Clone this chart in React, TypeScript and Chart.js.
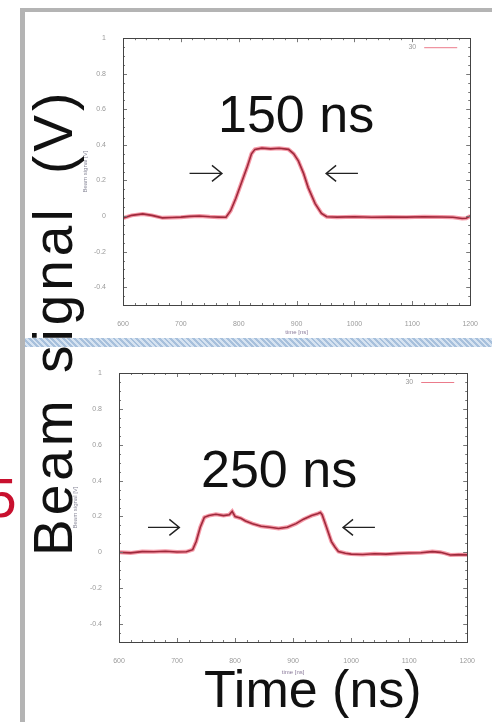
import React, { useEffect, useRef } from "react";
import { Chart, registerables } from "chart.js";
Chart.register(...registerables);

const FONT = "'Liberation Sans', Arial, Helvetica, sans-serif";
Chart.defaults.font.family = FONT;

// ---- data ----
const xTicks = [600, 700, 800, 900, 1000, 1100, 1200];
const yTicks = [-0.4, -0.2, 0, 0.2, 0.4, 0.6, 0.8, 1];
const xMin = 600;
const xMax = 1200;
const yMin = -0.5;
const yMax = 1;
const legendLabel = "30";
const xTitle = "time [ns]";
const yTitle = "Beam signal [V]";

const topTime = [600, 615, 634, 650, 668, 685, 700, 715, 732, 750, 765, 778, 786, 795, 805, 815, 822, 828, 840, 855, 870, 886, 895, 903, 912, 920, 932, 943, 952, 970, 1000, 1030, 1060, 1090, 1120, 1150, 1170, 1186, 1193, 1200];
const topSignal = [-0.012, 0.004, 0.012, 0.004, -0.01, -0.008, -0.006, -0.002, 0.0, -0.004, -0.006, -0.007, 0.03, 0.1, 0.19, 0.28, 0.35, 0.375, 0.382, 0.378, 0.381, 0.375, 0.35, 0.31, 0.24, 0.16, 0.07, 0.015, -0.004, -0.006, -0.004, -0.007, -0.005, -0.006, -0.004, -0.005, -0.007, -0.014, -0.012, 0.0];

const botTime = [600, 620, 640, 660, 680, 700, 716, 727, 733, 740, 747, 755, 767, 780, 790, 795, 800, 810, 818, 830, 845, 860, 875, 890, 905, 918, 932, 942, 947, 950, 957, 966, 972, 978, 990, 1000, 1020, 1040, 1060, 1080, 1100, 1120, 1140, 1154, 1162, 1171, 1185, 1200];
const botSignal = [0.0, -0.003, 0.004, 0.003, 0.006, 0.002, 0.003, 0.015, 0.06, 0.14, 0.195, 0.205, 0.212, 0.205, 0.21, 0.228, 0.2, 0.19, 0.175, 0.16, 0.145, 0.14, 0.133, 0.14, 0.16, 0.185, 0.205, 0.215, 0.222, 0.21, 0.145, 0.06, 0.03, 0.005, -0.005, -0.01, -0.012, -0.008, -0.01, -0.006, -0.004, -0.002, 0.004, 0.0, -0.006, -0.015, -0.013, -0.014];

const topArrowFrom = [715, 1006];
const topArrowTo = [771, 951];
const topArrowLevel = 0.24;
const botArrowFrom = [650, 1041];
const botArrowTo = [704, 986];
const botArrowLevel = 0.139;

// ---- plugin ----
function makeDecor(from: number[], to: number[], level: number) {
  return {
    id: "decor",
    afterDatasetsDraw(chart: any) {
      const { ctx, chartArea: a, scales } = chart;
      const xs = scales.x;
      const ys = scales.y;
      ctx.save();
      // inward ticks (gnuplot style, mirrored)
      ctx.strokeStyle = "#777";
      ctx.lineWidth = 1;
      ctx.beginPath();
      for (let v = xMin; v <= xMax + 1e-6; v += 20) {
        const major = Math.abs(v % 100) < 1e-6;
        const len = major ? 4 : 2;
        const px = Math.round(xs.getPixelForValue(v)) + 0.5;
        ctx.moveTo(px, a.bottom);
        ctx.lineTo(px, a.bottom - len);
        ctx.moveTo(px, a.top);
        ctx.lineTo(px, a.top + len);
      }
      for (let i = 0; i <= 30; i++) {
        const v = yMin + i * 0.05;
        const major = Math.abs(Math.round(v * 100) % 20) === 0;
        const len = major ? 4 : 2;
        const py = Math.round(ys.getPixelForValue(v)) + 0.5;
        ctx.moveTo(a.left, py);
        ctx.lineTo(a.left + len, py);
        ctx.moveTo(a.right, py);
        ctx.lineTo(a.right - len, py);
      }
      ctx.stroke();
      // frame
      ctx.strokeStyle = "#444";
      ctx.strokeRect(Math.round(a.left) + 0.5, Math.round(a.top) + 0.5, Math.round(a.right - a.left), Math.round(a.bottom - a.top));
      // legend
      ctx.fillStyle = "#999";
      ctx.font = "7px " + FONT;
      ctx.textAlign = "right";
      ctx.textBaseline = "middle";
      ctx.fillText(legendLabel, a.right - 54, a.top + 9);
      ctx.strokeStyle = "rgba(230,90,110,0.8)";
      ctx.beginPath();
      ctx.moveTo(a.right - 46, a.top + 9.5);
      ctx.lineTo(a.right - 13, a.top + 9.5);
      ctx.stroke();
      // arrows
      ctx.strokeStyle = "#222";
      ctx.lineWidth = 1.4;
      for (let i = 0; i < from.length; i++) {
        const x1 = xs.getPixelForValue(from[i]);
        const x2 = xs.getPixelForValue(to[i]);
        const y = ys.getPixelForValue(level);
        const dir = x2 > x1 ? 1 : -1;
        ctx.beginPath();
        ctx.moveTo(x1, y);
        ctx.lineTo(x2, y);
        ctx.moveTo(x2 - dir * 10, y - 8);
        ctx.lineTo(x2, y);
        ctx.lineTo(x2 - dir * 10, y + 8);
        ctx.stroke();
      }
      ctx.restore();
    },
  };
}

function SignalChart(props: {
  time: number[];
  signal: number[];
  from: number[];
  to: number[];
  level: number;
  left: number;
  top: number;
  width: number;
  height: number;
  padTop: number;
  padRight: number;
  yAxisW: number;
  xAxisH: number;
}) {
  const ref = useRef<HTMLCanvasElement | null>(null);
  useEffect(() => {
    const pts = props.time.map((t, i) => ({ x: t, y: props.signal[i] }));
    const chart = new Chart(ref.current as HTMLCanvasElement, {
      type: "line",
      data: {
        datasets: [
          { data: pts, borderColor: "rgba(236,70,95,0.55)", borderWidth: 4, pointRadius: 0, tension: 0 },
          { data: pts, borderColor: "#420812", borderWidth: 1.6, pointRadius: 0, tension: 0 },
        ],
      },
      options: {
        animation: false,
        responsive: false,
        events: [],
        layout: { padding: { top: props.padTop, right: props.padRight, left: 0, bottom: 0 } },
        plugins: { legend: { display: false }, tooltip: { enabled: false } },
        scales: {
          x: {
            type: "linear",
            min: xMin,
            max: xMax,
            grid: { display: false },
            border: { display: false },
            afterBuildTicks: (s: any) => {
              s.ticks = xTicks.map((v) => ({ value: v }));
            },
            afterFit: (s: any) => {
              s.height = props.xAxisH;
            },
            ticks: { font: { size: 7 }, color: "#9a9a9a", padding: 7, maxRotation: 0, autoSkip: false, callback: (v: any) => String(v) },
            title: { display: true, text: xTitle, font: { size: 6 }, color: "#8a7a9a", padding: { top: 0, bottom: 4 } },
          },
          y: {
            type: "linear",
            min: yMin,
            max: yMax,
            grid: { display: false },
            border: { display: false },
            afterBuildTicks: (s: any) => {
              s.ticks = yTicks.map((v) => ({ value: v }));
            },
            afterFit: (s: any) => {
              s.width = props.yAxisW;
            },
            ticks: {
              font: { size: 7 },
              color: "#9a9a9a",
              padding: 9,
              autoSkip: false,
              callback: (v: any) => String(Math.round(Number(v) * 10) / 10),
            },
            title: { display: true, text: yTitle, font: { size: 6 }, color: "#8a8a9a", padding: { top: 2, bottom: 0 } },
          },
        },
      },
      plugins: [makeDecor(props.from, props.to, props.level)],
    });
    return () => chart.destroy();
  }, []);
  return (
    <canvas
      ref={ref}
      width={props.width}
      height={props.height}
      style={{ position: "absolute", left: props.left, top: props.top, width: props.width, height: props.height }}
    />
  );
}

const bigText: React.CSSProperties = {
  position: "absolute",
  fontFamily: FONT,
  color: "#111",
  whiteSpace: "nowrap",
  zIndex: 5,
};

export default function App() {
  return (
    <div style={{ position: "absolute", left: 0, top: 0, width: 492, height: 722, overflow: "hidden", background: "#fff" }}>
      {/* slide frame */}
      <div style={{ position: "absolute", left: 20, top: 8, width: 472, height: 4, background: "#b4b4b4" }} />
      <div style={{ position: "absolute", left: 20, top: 8, width: 5, height: 714, background: "#b4b4b4" }} />
      <SignalChart time={topTime} signal={topSignal} from={topArrowFrom} to={topArrowTo} level={topArrowLevel}
        left={80} top={25} width={405} height={315} padTop={13} padRight={12} yAxisW={43} xAxisH={35} />
      <SignalChart time={botTime} signal={botSignal} from={botArrowFrom} to={botArrowTo} level={botArrowLevel}
        left={70} top={355} width={412} height={325} padTop={18} padRight={12} yAxisW={49} xAxisH={38} />
      {/* separator band */}
      <div style={{ position: "absolute", left: 25, top: 338, width: 467, height: 9, zIndex: 6,
        background: "repeating-linear-gradient(45deg, #a7c0dc 0px, #a7c0dc 2px, #d6e3f1 2px, #d6e3f1 4px)" }} />
      <div style={{ ...bigText, left: 218, top: 88, fontSize: 52, lineHeight: "52px" }}>150 ns</div>
      <div style={{ ...bigText, left: 201, top: 443, fontSize: 52, lineHeight: "52px" }}>250 ns</div>
      <div style={{ ...bigText, left: 204, top: 663, fontSize: 52, lineHeight: "52px" }}>Time (ns)</div>
      <div style={{ ...bigText, left: 26, top: 556, fontSize: 55, lineHeight: "55px", letterSpacing: "4px", wordSpacing: "4px",
        transformOrigin: "0 0", transform: "rotate(-90deg)" }}>Beam signal <span style={{ marginLeft: 8 }}>(V)</span></div>
      <div style={{ ...bigText, left: -14, top: 471, fontSize: 55, lineHeight: "55px", color: "#c8102e" }}>5</div>
    </div>
  );
}
